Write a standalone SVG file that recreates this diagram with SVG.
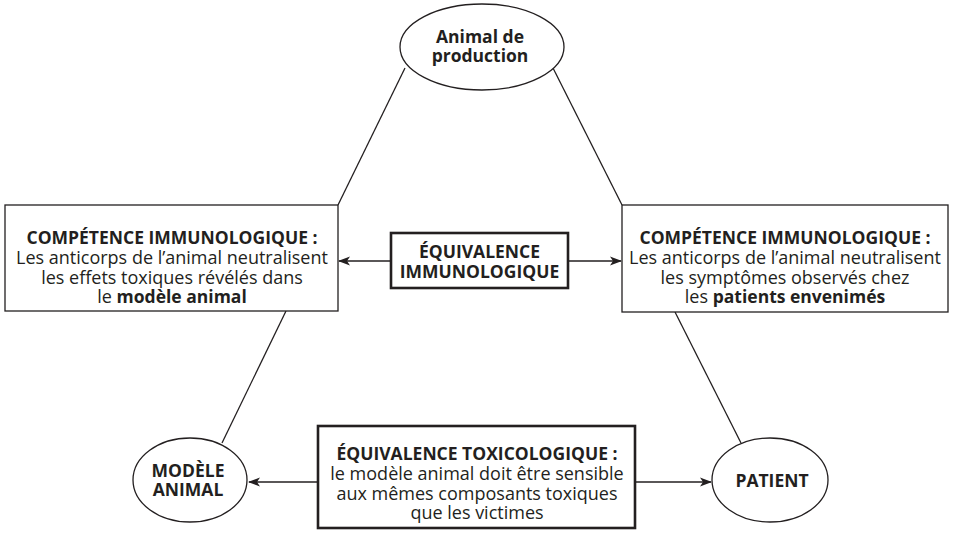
<svg xmlns="http://www.w3.org/2000/svg" width="953" height="535" viewBox="0 0 953 535">
<defs>
<style>
text{font-family:"Open Sans","Noto Sans","Liberation Sans",sans-serif;font-size:18px;fill:#231f20;text-anchor:middle}
.b{font-weight:bold;font-size:17.5px}
.thin{fill:#fff;stroke:#231f20;stroke-width:1.3}
.thick{fill:#fff;stroke:#231f20;stroke-width:2.6}
.ln{fill:none;stroke:#231f20;stroke-width:1.3}
</style>
<marker id="ah" viewBox="0 0 12 10" refX="11" refY="5" markerWidth="12" markerHeight="10" markerUnits="userSpaceOnUse" orient="auto">
<path d="M0,0.5 L12,5 L0,9.5 L3,5 Z" fill="#231f20"/>
</marker>
</defs>
<rect width="953" height="535" fill="#fff"/>
<g id="connectors">
<line class="ln" x1="405" y1="68" x2="338" y2="205"/>
<line class="ln" x1="553" y1="68" x2="622" y2="205"/>
<line class="ln" x1="286" y1="311" x2="222" y2="443"/>
<line class="ln" x1="675" y1="312" x2="741" y2="443"/>
<line class="ln" x1="391" y1="261" x2="339" y2="261" marker-end="url(#ah)"/>
<line class="ln" x1="568" y1="261" x2="621" y2="261" marker-end="url(#ah)"/>
<line class="ln" x1="318" y1="482" x2="249" y2="482" marker-end="url(#ah)"/>
<line class="ln" x1="635" y1="482" x2="711" y2="482" marker-end="url(#ah)"/>
</g>
<g id="animal-production">
<ellipse class="thin" cx="482" cy="47" rx="82" ry="43"/>
<text class="b" x="480" y="43">Animal de</text>
<text class="b" x="480" y="62">production</text>
</g>
<g id="competence-gauche">
<rect class="thin" x="5" y="205" width="333" height="106"/>
<text class="b" x="172" y="244">COMPÉTENCE IMMUNOLOGIQUE :</text>
<text x="172" y="264">Les anticorps de l’animal neutralisent</text>
<text x="172" y="284">les effets toxiques révélés dans</text>
<text x="172" y="303">le <tspan class="b">modèle animal</tspan></text>
</g>
<g id="competence-droite">
<rect class="thin" x="622" y="205" width="326" height="107"/>
<text class="b" x="785" y="244">COMPÉTENCE IMMUNOLOGIQUE :</text>
<text x="785" y="264">Les anticorps de l’animal neutralisent</text>
<text x="785" y="284">les symptômes observés chez</text>
<text x="785" y="303">les <tspan class="b">patients envenimés</tspan></text>
</g>
<g id="equivalence-immuno">
<rect class="thick" x="391" y="233" width="177" height="55"/>
<text class="b" x="479.5" y="258">ÉQUIVALENCE</text>
<text class="b" x="479.5" y="278">IMMUNOLOGIQUE</text>
</g>
<g id="modele-animal">
<ellipse class="thin" cx="190" cy="480" rx="57" ry="42"/>
<text class="b" x="188" y="477">MODÈLE</text>
<text class="b" x="188" y="496">ANIMAL</text>
</g>
<g id="equivalence-toxico">
<rect class="thick" x="318" y="426" width="317" height="102"/>
<text class="b" x="477" y="460">ÉQUIVALENCE TOXICOLOGIQUE :</text>
<text x="477" y="480">le modèle animal doit être sensible</text>
<text x="477" y="500">aux mêmes composants toxiques</text>
<text x="477" y="519">que les victimes</text>
</g>
<g id="patient">
<ellipse class="thin" cx="770" cy="480" rx="58" ry="42"/>
<text class="b" x="772" y="487">PATIENT</text>
</g>
</svg>
